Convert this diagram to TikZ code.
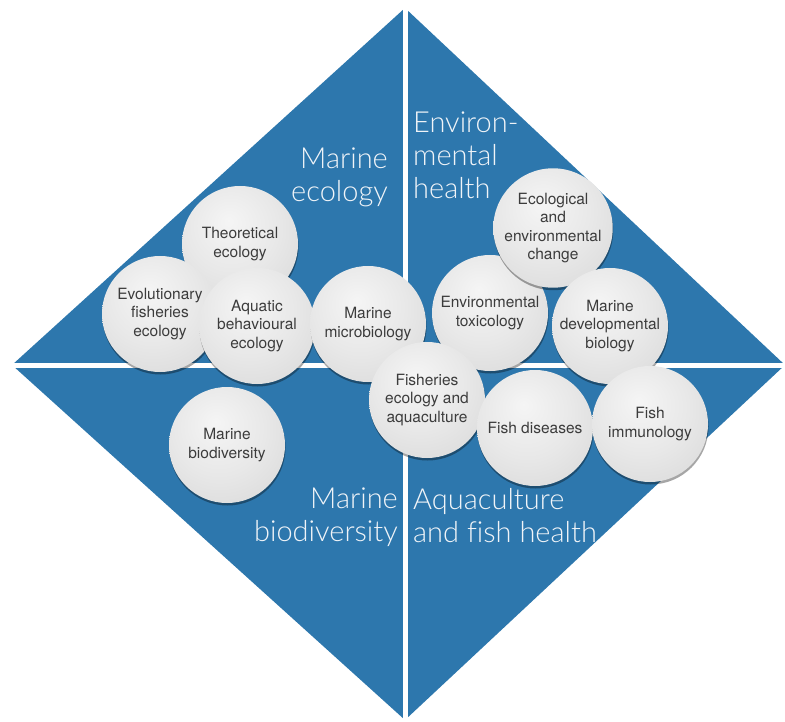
\documentclass[tikz,border=0pt]{standalone}
\usepackage{fontspec}
\setmainfont{TeX Gyre Heros}
\IfFontExistsTF{Lato Light}{\newfontfamily\headfont[Ligatures=NoCommon]{Lato Light}}{\newfontfamily\headfont{TeX Gyre Heros}}
\usetikzlibrary{shadows}
\definecolor{quadblue}{RGB}{45,119,173}
\definecolor{bubbletext}{RGB}{60,60,60}
\definecolor{headtext}{RGB}{240,244,248}
\pgfdeclareradialshading{bubble}{\pgfpoint{-5bp}{10bp}}{color(0bp)=(white!96!black); color(20bp)=(white!91!black); color(42bp)=(white!84!black); color(58bp)=(white!74!black); color(70bp)=(white!70!black)}
\begin{document}
\begin{tikzpicture}[x=1pt,y=-1pt,
  bubble/.style={circle, minimum size=116pt, inner sep=0pt, shading=bubble,
    drop shadow={shadow xshift=0.5pt, shadow yshift=-2.5pt, opacity=0.35, fill=black},
    align=center, text=bubbletext, font=\fontsize{15.5}{18.5}\selectfont},
  area/.style={text=headtext, font=\headfont\fontsize{29}{33}\selectfont, inner sep=0pt}]
\useasboundingbox (0,0) rectangle (785,722);
\coordinate (T) at (405,8);
\coordinate (R) at (785,365);
\coordinate (B) at (405,720);
\coordinate (L) at (12,365);
\fill[quadblue] (T) -- (R) -- (B) -- (L) -- cycle;
\draw[white, line width=5pt] (405,0) -- (405,722);
\draw[white, line width=5pt] (0,365) -- (785,365);

\node[area, anchor=north east, align=right] (me) at (388,148) {Marine\\ecology};
\node[area, anchor=north west, align=left] (eh) at (413,112) {Environ-\\mental\\health};
\node[area, anchor=north east, align=right] (mb) at (398,488) {Marine\\biodiversity};
\node[area, anchor=north west, align=left] (af) at (413,488) {Aquaculture\\and fish health};

\node[bubble] (theo) at (240,244) {Theoretical\\ecology};
\node[bubble] (evo) at (160,314) {Evolutionary\\fisheries\\ecology};
\node[bubble] (aqu) at (257,326) {Aquatic\\behavioural\\ecology};
\node[bubble] (micro) at (368,324) {Marine\\microbiology};
\node[bubble] (biod) at (227,445) {Marine\\biodiversity};
\node[bubble] (tox) at (490,313) {Environmental\\toxicology};
\node[bubble] (eco) at (553,228) {Ecological\\and\\environmental\\change};
\node[bubble] (dev) at (610,326) {Marine\\developmental\\biology};
\node[bubble] (fish) at (427,400) {Fisheries\\ecology and\\aquaculture};
\node[bubble] (dis) at (535,428) {Fish diseases};
\node[bubble] (imm) at (650,424) {Fish\\immunology};
\end{tikzpicture}
\end{document}
